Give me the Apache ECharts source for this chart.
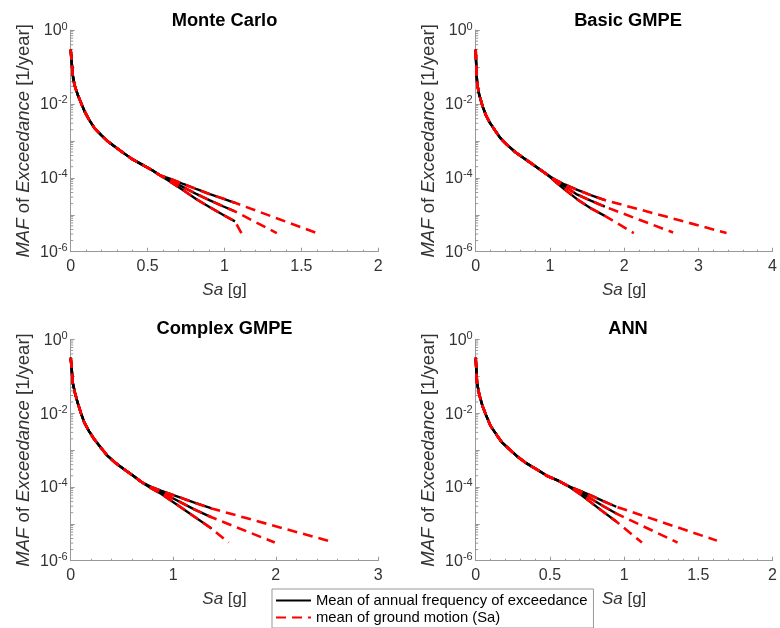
<!DOCTYPE html>
<html><head><meta charset="utf-8">
<script src="https://cdn.jsdelivr.net/npm/echarts@6/dist/echarts.min.js"></script>
<style>html,body{margin:0;padding:0;background:#fff}#c{width:780px;height:628px}</style>
</head><body><div id="c"></div>
<script>
// ---------- DATA ----------
const panelTitles = ['Monte Carlo', 'Basic GMPE', 'Complex GMPE', 'ANN'];
const xMax = [2, 4, 3, 2];
const xInterval = [0.5, 1, 1, 0.5];
const blackName = 'Mean of annual frequency of exceedance';
const redName = 'mean of ground motion (Sa)';

// Monte Carlo
const mcTrunkX = [0, 0.006, 0.013, 0.025, 0.045, 0.07, 0.09, 0.12, 0.155, 0.2, 0.24, 0.29, 0.34, 0.4, 0.47, 0.53, 0.58];
const mcTrunkY = [2.95e-1, 1.41e-1, 6.2e-2, 3.2e-2, 1.8e-2, 1.0e-2, 6.3e-3, 3.7e-3, 2.2e-3, 1.4e-3, 9.8e-4, 6.8e-4, 4.8e-4, 3.2e-4, 2.2e-4, 1.6e-4, 1.17e-4];
const mcBranchX = [0.645, 0.732, 0.82, 0.905, 0.99, 1.068];
const mcUpperY = [9.5e-5, 6.8e-5, 4.9e-5, 3.6e-5, 2.75e-5, 2.1e-5];
const mcMiddleY = [8.7e-5, 5.6e-5, 3.6e-5, 2.45e-5, 1.7e-5, 1.23e-5];
const mcLowerY = [7.9e-5, 4.6e-5, 2.6e-5, 1.6e-5, 1.0e-5, 6.6e-6];
const mcRedEndX = [1.60, 1.34, 1.11];
const mcRedEndY = [3.2e-6, 3.2e-6, 3.2e-6];

// Basic GMPE
const bgTrunkX = [0, 0.005, 0.012, 0.022, 0.047, 0.092, 0.135, 0.19, 0.27, 0.33, 0.42, 0.53, 0.64, 0.77, 0.9, 0.98];
const bgTrunkY = [2.95e-1, 1.41e-1, 6.2e-2, 3.3e-2, 1.8e-2, 8.7e-3, 5.1e-3, 3.1e-3, 1.8e-3, 1.2e-3, 7.9e-4, 5.0e-4, 3.5e-4, 2.3e-4, 1.5e-4, 1.15e-4];
const bgBranchX = [1.08, 1.2, 1.37, 1.55, 1.74];
const bgUpperY = [8.7e-5, 6.6e-5, 4.7e-5, 3.4e-5, 2.5e-5];
const bgMiddleY = [8.1e-5, 5.8e-5, 3.5e-5, 2.4e-5, 1.66e-5];
const bgLowerY = [7.6e-5, 4.8e-5, 2.6e-5, 1.5e-5, 9.3e-6];
const bgRedEndX = [3.38, 2.66, 2.13];
const bgRedEndY = [3.2e-6, 3.3e-6, 3.2e-6];

// Complex GMPE
const cgTrunkX = [0, 0.01, 0.02, 0.042, 0.068, 0.10, 0.133, 0.18, 0.23, 0.295, 0.36, 0.44, 0.52, 0.61, 0.70];
const cgTrunkY = [3.16e-1, 1.55e-1, 6.6e-2, 3.5e-2, 1.9e-2, 1.0e-2, 5.5e-3, 3.2e-3, 1.95e-3, 1.15e-3, 6.9e-4, 4.4e-4, 3.0e-4, 2.0e-4, 1.3e-4];
const cgBranchX = [0.78, 0.88, 1.03, 1.2, 1.375];
const cgUpperY = [1.02e-4, 7.9e-5, 5.6e-5, 3.8e-5, 2.6e-5];
const cgMiddleY = [9.8e-5, 7.2e-5, 4.4e-5, 2.5e-5, 1.5e-5];
const cgLowerY = [9.3e-5, 6.5e-5, 3.4e-5, 1.6e-5, 7.4e-6];
const cgRedEndX = [2.54, 1.99, 1.54];
const cgRedEndY = [3.3e-6, 3.1e-6, 3.1e-6];

// ANN
const annTrunkX = [0, 0.004, 0.009, 0.024, 0.046, 0.072, 0.10, 0.14, 0.177, 0.276, 0.34, 0.41, 0.48, 0.56, 0.62];
const annTrunkY = [3.16e-1, 1.55e-1, 6.6e-2, 3.2e-2, 1.55e-2, 8.3e-3, 4.5e-3, 2.6e-3, 1.6e-3, 6.9e-4, 4.4e-4, 3.0e-4, 2.0e-4, 1.45e-4, 1.07e-4];
const annBranchX = [0.70, 0.78, 0.86, 0.947];
const annUpperY = [7.9e-5, 5.8e-5, 4.1e-5, 2.9e-5];
const annMiddleY = [7.2e-5, 4.7e-5, 3.0e-5, 1.9e-5];
const annLowerY = [6.5e-5, 3.7e-5, 2.1e-5, 1.15e-5];
const annRedEndX = [1.625, 1.36, 1.12];
const annRedEndY = [3.5e-6, 3.1e-6, 3.1e-6];

// ---------- BUILD ----------
const panels = [
  {tx: mcTrunkX, ty: mcTrunkY, bx: mcBranchX, br: [mcUpperY, mcMiddleY, mcLowerY], ex: mcRedEndX, ey: mcRedEndY},
  {tx: bgTrunkX, ty: bgTrunkY, bx: bgBranchX, br: [bgUpperY, bgMiddleY, bgLowerY], ex: bgRedEndX, ey: bgRedEndY},
  {tx: cgTrunkX, ty: cgTrunkY, bx: cgBranchX, br: [cgUpperY, cgMiddleY, cgLowerY], ex: cgRedEndX, ey: cgRedEndY},
  {tx: annTrunkX, ty: annTrunkY, bx: annBranchX, br: [annUpperY, annMiddleY, annLowerY], ex: annRedEndX, ey: annRedEndY}
];

const FONT = '"Liberation Sans", Arial, Helvetica, sans-serif';
const AX = '#999';
const TXT = '#333';

const gridPos = [
  {left: 70.7, top: 30, width: 307.6, height: 221.7},
  {left: 475.7, top: 30, width: 304.8, height: 221.7},
  {left: 70.7, top: 339.3, width: 307.6, height: 221.4},
  {left: 475.7, top: 339.3, width: 305, height: 221.4}
];
const titlePos = [[224.5, 20.7], [628, 20.7], [224.5, 329.3], [628, 329.3]];

// minor tick positions of the log axis (2..9 of each decade)
const yMinorTicks = [];
for (let e = -6; e < 0; e++) {
  for (let k = 2; k <= 9; k++) yMinorTicks.push(k * Math.pow(10, e));
}

const grid = [], xAxis = [], yAxis = [], series = [], graphic = [];
panels.forEach((p, i) => {
  grid.push(Object.assign({containLabel: false}, gridPos[i]));
  xAxis.push({
    gridIndex: i, type: 'value', min: 0, max: xMax[i], interval: xInterval[i],
    axisLine: {show: true, onZero: false, lineStyle: {color: AX, width: 1}},
    axisTick: {show: true, inside: true, length: 4, lineStyle: {color: AX}},
    minorTick: {show: true, splitNumber: 5, length: 2, lineStyle: {color: AX}},
    splitLine: {show: false},
    axisLabel: {fontSize: 16, color: TXT, margin: 7, fontFamily: FONT, showMaxLabel: true},
    name: '{i|Sa} [g]', nameLocation: 'middle', nameGap: 30,
    nameTextStyle: {fontSize: 17, color: TXT, fontFamily: FONT,
      rich: {i: {fontStyle: 'italic', fontSize: 17, color: TXT, fontFamily: FONT}}}
  });
  yAxis.push({
    gridIndex: i, type: 'log', logBase: 10, min: 1e-6, max: 1,
    axisLine: {show: true, lineStyle: {color: AX, width: 1}},
    axisTick: {show: true, inside: true, length: 4, lineStyle: {color: AX}},
    splitLine: {show: false},
    axisLabel: {
      margin: 3, color: TXT, fontFamily: FONT,
      formatter: v => {
        const e = Math.round(Math.log10(v));
        return (e % 2 === 0) ? '{b|10}{s|' + e + '}' : '';
      },
      rich: {
        b: {fontSize: 16, color: TXT, fontFamily: FONT, lineHeight: 18, verticalAlign: 'bottom'},
        s: {fontSize: 11, color: TXT, fontFamily: FONT, lineHeight: 10, verticalAlign: 'top'}
      }
    },
    name: '{i|MAF} of {i|Exceedance} [1/year]', nameLocation: 'middle', nameGap: 37,
    nameTextStyle: {fontSize: 18.5, color: TXT, fontFamily: FONT,
      rich: {i: {fontStyle: 'italic', fontSize: 18.5, color: TXT, fontFamily: FONT}}}
  });
  series.push({
    type: 'custom', xAxisIndex: i, yAxisIndex: i, silent: true, clip: false, z: 1,
    data: yMinorTicks.map(v => [0, v]),
    renderItem: (params, api) => {
      const c = api.coord([0, api.value(1)]);
      return {type: 'line', shape: {x1: c[0], y1: c[1], x2: c[0] + 2.5, y2: c[1]},
        style: {stroke: AX, lineWidth: 1}};
    }
  });
  const blackData = p.br.map(by => p.tx.map((x, j) => [x, p.ty[j]]).concat(p.bx.map((x, j) => [x, by[j]])));
  blackData.forEach(d => series.push({
    type: 'line', name: blackName, xAxisIndex: i, yAxisIndex: i, data: d,
    symbol: 'none', z: 3, lineStyle: {color: '#000', width: 2.4, type: 'solid'}, itemStyle: {color: '#000'}
  }));
  blackData.forEach((d, b) => series.push({
    type: 'line', name: redName, xAxisIndex: i, yAxisIndex: i, data: d.concat([[p.ex[b], p.ey[b]]]),
    symbol: 'none', z: 4, lineStyle: {color: '#ff0000', width: 2.6, type: [10, 6]}, itemStyle: {color: '#ff0000'}
  }));
  graphic.push({type: 'text', x: titlePos[i][0], y: titlePos[i][1], z: 10,
    style: {text: panelTitles[i], align: 'center', verticalAlign: 'middle',
      font: 'bold 18.3px ' + FONT, fill: '#000'}});
});

const chart = echarts.init(document.getElementById('c'), null, {renderer: 'canvas'});
chart.setOption({
  backgroundColor: '#fff',
  animation: false,
  grid, xAxis, yAxis, series, graphic,
  legend: {
    data: [blackName, redName], orient: 'vertical', left: 272, top: 589,
    itemWidth: 35, itemHeight: 12, itemGap: 2, padding: [4, 6, 3, 3],
    borderColor: '#999', borderWidth: 1, backgroundColor: '#fff', selectedMode: false,
    itemStyle: {opacity: 0},
    textStyle: {fontSize: 14.8, color: '#000', fontFamily: FONT}
  }
});
</script></body></html>
